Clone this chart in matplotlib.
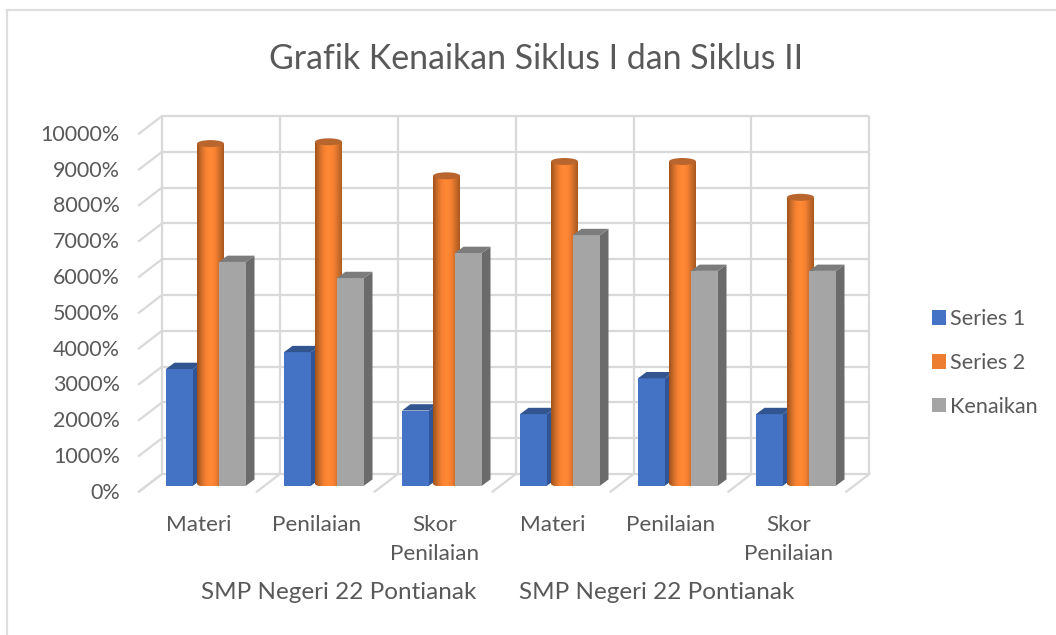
import numpy as np
import matplotlib
matplotlib.use("Agg")
import matplotlib.pyplot as plt
from matplotlib.patches import Polygon, Ellipse, PathPatch, Patch, Rectangle
from matplotlib.path import Path
from matplotlib.colors import LinearSegmentedColormap

plt.rcParams['font.family'] = ['Lato', 'DejaVu Sans']

categories = ["Materi", "Penilaian", "Skor\nPenilaian", "Materi", "Penilaian", "Skor\nPenilaian"]
groups = ["SMP Negeri 22 Pontianak", "SMP Negeri 22 Pontianak"]
series_1 = [3260, 3730, 2100, 2000, 3000, 2000]
series_2 = [9500, 9550, 8600, 9000, 9000, 8000]
kenaikan = [6250, 5800, 6500, 7000, 6000, 6000]
y_ticks = [0, 1000, 2000, 3000, 4000, 5000, 6000, 7000, 8000, 9000, 10000]

W, H = 1056, 635
TEXT = "#595959"
GRID = "#d9d9d9"

fig = plt.figure(figsize=(W / 100, H / 100), dpi=100)
# axes = the plane the bars stand on, 118 px per category, 35.8 px per 1000
left, right, bottom, top = 147, 855, 485.7, 127.7
ax = fig.add_axes([left / W, 1 - bottom / H, (right - left) / W, (bottom - top) / H])
ax.set_xlim(0, 6)
ax.set_ylim(0, 10000)
ax.axis("off")

px_x = 6 / (right - left)
px_y = 10000 / (bottom - top)

# chart frame
fig.add_artist(Rectangle((6.5 / W, -0.1), 1.2, 1 - 9.5 / H + 0.1, transform=fig.transFigure,
                         fill=False, ec="#dedede", lw=1.6))

# back wall and left wall grid
back_dx, back_dy = 15 * px_x, 11.7 * px_y
front_dx, front_dy = -8 * px_x, -5.9 * px_y
for v in y_ticks:
    ax.plot([back_dx, 6 * 117.9 / 118 + back_dx], [v + back_dy, v + back_dy], color=GRID, lw=1.6,
            clip_on=False, zorder=1, solid_capstyle="butt")
    ax.plot([front_dx, back_dx], [v + front_dy, v + back_dy], color=GRID, lw=1.6,
            clip_on=False, zorder=1)
for i in range(7):
    x = i * 117.9 / 118
    ax.plot([x + back_dx, x + back_dx], [back_dy, 10000 + back_dy], color=GRID, lw=1.6,
            clip_on=False, zorder=1, solid_capstyle="butt")
    ax.plot([x + front_dx, x + back_dx], [front_dy, back_dy], color=GRID, lw=1.6,
            clip_on=False, zorder=1)

bar_w = 27 * px_x
side_dx, side_dy = 8.5 * px_x, 6.3 * px_y


def box(x, val, front, side, cap, z):
    ax.bar(x, val, bar_w, align="edge", color=front, zorder=z, clip_on=False)
    ax.add_patch(Polygon([(x + bar_w, 0), (x + bar_w + side_dx, side_dy),
                          (x + bar_w + side_dx, val + side_dy), (x + bar_w, val)],
                         fc=side, ec="none", zorder=z, clip_on=False))
    ax.add_patch(Polygon([(x, val), (x + side_dx, val + side_dy),
                          (x + bar_w + side_dx, val + side_dy), (x + bar_w, val)],
                         fc=cap, ec="none", zorder=z, clip_on=False))


cyl_cmap = LinearSegmentedColormap.from_list(
    "cyl", ["#a0521c", "#d06f2a", "#f98232", "#ff8a35", "#f98232", "#cf6f2b", "#a9581f"])
shade = np.linspace(0, 1, 64).reshape(1, -1)
ell_h = 7 * px_y
cyl_dy = 2 * px_y  # cylinder stands mid depth, a bit higher than the box fronts


def cylinder(x, val, z):
    w = bar_w
    low = cyl_dy
    high = val + cyl_dy
    im = ax.imshow(shade, cmap=cyl_cmap, extent=(x, x + w, low - ell_h, high), aspect="auto", zorder=z)
    k = 0.5523
    a, b = w / 2, ell_h / 2
    cx = x + a
    verts = [(x, high), (x, low),
             (x, low - k * b), (cx - k * a, low - b), (cx, low - b),
             (cx + k * a, low - b), (x + w, low - k * b), (x + w, low),
             (x + w, high), (x, high)]
    codes = [Path.MOVETO, Path.LINETO,
             Path.CURVE4, Path.CURVE4, Path.CURVE4,
             Path.CURVE4, Path.CURVE4, Path.CURVE4,
             Path.LINETO, Path.CLOSEPOLY]
    clip = PathPatch(Path(verts, codes), transform=ax.transData, fc="none", ec="none")
    ax.add_patch(clip)
    im.set_clip_path(clip)
    ax.add_patch(Ellipse((cx, high), w, ell_h, fc="#b9652e", ec="none", zorder=z, clip_on=False))


for i in range(len(categories)):
    base = i * 118 * px_x
    box(base + 19 * px_x, series_1[i], "#4472c4", "#2f5597", "#32548f", 3)
    cylinder(base + 50 * px_x, series_2[i], 4)
    box(base + 72 * px_x, kenaikan[i], "#a5a5a5", "#6b6b6b", "#7c7c7c", 5)
ax.set_xlim(0, 6)
ax.set_ylim(0, 10000)

# tick labels
for v in y_ticks:
    ax.annotate(f"{v}%", (0, v), xytext=(-27, -7.2), textcoords="offset pixels", ha="right",
                va="center", fontsize=15.5, color=TEXT, annotation_clip=False)
for i, c in enumerate(categories):
    ax.text(i + 52 * px_x, -(523 - 485.7 - 8) * px_y, c, ha="center", va="top", fontsize=16.2,
            color=TEXT, linespacing=1.55, clip_on=False)
for i, g in enumerate(groups):
    ax.text((339 - left) * px_x + i * 318 * px_x, -(592.5 - 485.7) * px_y, g, ha="center", va="center",
            fontsize=17.5, color=TEXT, clip_on=False)

fig.text(536.5 / W, 1 - 59 / H, "Grafik Kenaikan Siklus I dan Siklus II", ha="center", va="center",
         fontsize=24.4, color=TEXT)

handles = [Patch(fc="#4472c4", label="Series 1"), Patch(fc="#ed7d31", label="Series 2"),
           Patch(fc="#a5a5a5", label="Kenaikan")]
fig.legend(handles=handles, loc="center left", bbox_to_anchor=(923 / W, 1 - 363 / H),
           frameon=False, fontsize=15.6, labelcolor=TEXT, handlelength=0.65, handleheight=0.65,
           handletextpad=0.2, labelspacing=1.1, borderaxespad=0)

fig.savefig("out.png", dpi=100)
